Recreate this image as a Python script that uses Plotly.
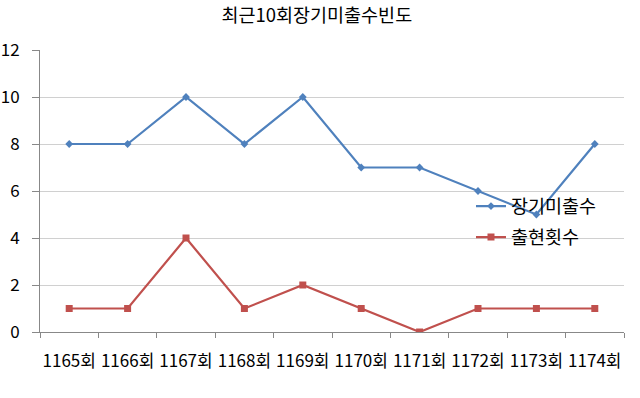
import plotly.graph_objects as go

categories = ["1165회", "1166회", "1167회", "1168회", "1169회", "1170회", "1171회", "1172회", "1173회", "1174회"]
series1_name = "장기미출수"
series1 = [8, 8, 10, 8, 10, 7, 7, 6, 5, 8]
series2_name = "출현횟수"
series2 = [1, 1, 4, 1, 2, 1, 0, 1, 1, 1]
title = "최근10회장기미출수빈도"
yticks = [0, 2, 4, 6, 8, 10, 12]

FONT = "Noto Sans CJK KR, Malgun Gothic, sans-serif"

fig = go.Figure()
fig.add_trace(go.Scatter(x=categories, y=series1, name=series1_name, mode="lines+markers",
                         legendgroup="a",
                         line=dict(color="#4F81BD", width=2.2),
                         marker=dict(symbol="diamond", size=6, color="#4F81BD")))
fig.add_trace(go.Scatter(x=categories, y=series2, name=series2_name, mode="lines+markers",
                         legendgroup="b",
                         line=dict(color="#C0504D", width=2.2),
                         marker=dict(symbol="square", size=7, color="#C0504D")))

fig.update_layout(
    width=640, height=398,
    margin=dict(l=40, r=16, t=50, b=66, autoexpand=False),
    paper_bgcolor="white", plot_bgcolor="white",
    font=dict(family=FONT, size=17, color="black"),
    title=dict(text=title, x=0.495, xanchor="center", y=0.96, yanchor="middle",
               font=dict(family=FONT, size=18.5, color="black")),
    showlegend=True,
    legend=dict(x=0.738, xanchor="left", y=0.39, yanchor="middle",
                bgcolor="rgba(0,0,0,0)", font=dict(family=FONT, size=18.5, color="black"),
                tracegroupgap=4, itemwidth=30),
    xaxis=dict(type="category", range=[-0.5, 9.5], showgrid=False,
               showline=True, linecolor="#888888", linewidth=1,
               ticks="outside", tickson="boundaries", ticklen=5, tickcolor="#888888",
               tickangle=0, ticklabelstandoff=14,
               tickfont=dict(family=FONT, size=17, color="black"), fixedrange=True),
    yaxis=dict(range=[0, 12], tickvals=yticks, showgrid=True, gridcolor="#D0D0D0", gridwidth=1,
               showline=True, linecolor="#888888", linewidth=1,
               ticks="outside", ticklen=7, tickcolor="#888888", zeroline=False,
               ticklabelstandoff=9,
               tickfont=dict(family=FONT, size=17, color="black"), fixedrange=True),
)
fig.write_html("out.html", config={"displayModeBar": False},
               post_script="document.body.style.margin='0';")
